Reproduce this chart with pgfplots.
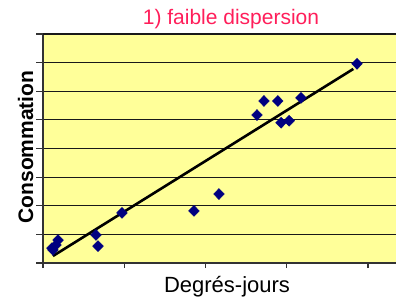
\documentclass[border=0pt]{standalone}
\usepackage{pgfplots}
\pgfplotsset{compat=1.18}
\usepackage{fontspec}
\setmainfont{Liberation Sans}
\definecolor{bgyellow}{RGB}{255,255,153}
\definecolor{navy}{RGB}{0,0,128}
\definecolor{titlered}{RGB}{255,30,90}
\begin{document}
\begin{tikzpicture}[x=1pt,y=1pt]
\useasboundingbox (0,0) rectangle (396,298);
\begin{axis}[
  at={(43pt,35pt)}, anchor=south west,
  scale only axis, width=353pt, height=229pt,
  xmin=0, xmax=4.345, ymin=0, ymax=8,
  axis x line*=bottom, axis y line*=left,
  axis line style={black!80, line width=1.4pt},
  xtick={0,1,2,3,4}, ytick={0,...,7},
  xticklabels={}, yticklabels={},
  tick align=outside,
  major tick length=7pt,
  xtick style={/pgfplots/major tick length=5pt},
  tick style={black!80, line width=1.2pt},
  ymajorgrids, major grid style={black!90, line width=1.1pt},
  extra y ticks={8}, extra y tick labels={},
  extra y tick style={grid style={gray!70, line width=1pt}},
  axis background/.style={fill=bgyellow},
  clip=false,
]
\addplot[only marks, mark=diamond*, mark size=5.5pt, color=navy, mark options={xscale=1.3}] coordinates {
  (0.123,0.455) (0.185,0.80) (0.16,0.63) (0.11,0.52)
  (0.652,0.98) (0.677,0.59) (0.972,1.75) (1.858,1.82) (2.166,2.41)
  (2.634,5.17) (2.72,5.66) (2.89,5.66) (2.93,4.90) (3.03,4.97)
  (3.175,5.77) (3.865,6.96)
};
\addplot[black, line width=2.6pt] coordinates {(0.123,0.245) (3.82,6.78)};
\end{axis}
\node[anchor=base, text=titlered, font=\fontsize{21}{24}\selectfont] at (231,273) {1) faible dispersion};
\node[anchor=base, font=\fontsize{22}{26}\selectfont] at (227,6) {Degrés-jours};
\node[anchor=base, rotate=90, font=\bfseries\fontsize{21}{24}\selectfont] at (33,151) {Consommation};
\end{tikzpicture}
\end{document}
